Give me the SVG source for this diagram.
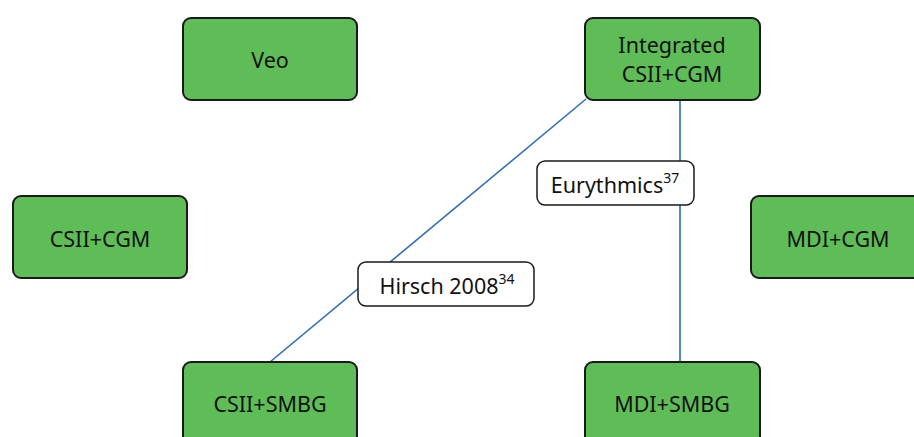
<svg xmlns="http://www.w3.org/2000/svg" width="914" height="437" viewBox="0 0 914 437">
<style>
.node rect{fill:#5fbd58;stroke:#1a1a1a;stroke-width:2}
.lbl rect{fill:#ffffff;stroke:#1a1a1a;stroke-width:1.5}
text{font-family:"Noto Sans","Open Sans","Liberation Sans",sans-serif;font-size:21.5px;fill:#111;text-anchor:middle;dominant-baseline:central}
.sup{font-size:14px}
.edge{stroke:#2f6db5;stroke-width:1.6;fill:none}
</style>
<rect width="914" height="437" fill="#ffffff"/>
<g id="connectors">
<line class="edge" x1="586" y1="99" x2="270" y2="362"/>
<line class="edge" x1="680" y1="100" x2="680" y2="362"/>
</g>
<g id="veo" class="node"><rect x="183" y="18" width="174" height="82" rx="8"/><text x="270" y="59">Veo</text></g>
<g id="integrated" class="node"><rect x="585" y="18" width="175" height="82" rx="8"/><text x="672" y="44">Integrated</text><text x="672" y="73">CSII+CGM</text></g>
<g id="csii-cgm" class="node"><rect x="13" y="196" width="174" height="82" rx="8"/><text x="100" y="238">CSII+CGM</text></g>
<g id="mdi-cgm" class="node"><rect x="751" y="196" width="175" height="82" rx="8"/><text x="838" y="238">MDI+CGM</text></g>
<g id="csii-smbg" class="node"><rect x="183" y="362" width="174" height="82" rx="8"/><text x="270" y="403">CSII+SMBG</text></g>
<g id="mdi-smbg" class="node"><rect x="585" y="362" width="175" height="82" rx="8"/><text x="672" y="403">MDI+SMBG</text></g>
<g id="hirsch" class="lbl"><rect x="358" y="262" width="176" height="44" rx="8"/><text x="447" y="285">Hirsch 2008<tspan class="sup" dy="-7">34</tspan></text></g>
<g id="eurythmics" class="lbl"><rect x="537" y="161" width="157" height="44" rx="8"/><text x="615" y="184">Eurythmics<tspan class="sup" dy="-7">37</tspan></text></g>
</svg>
